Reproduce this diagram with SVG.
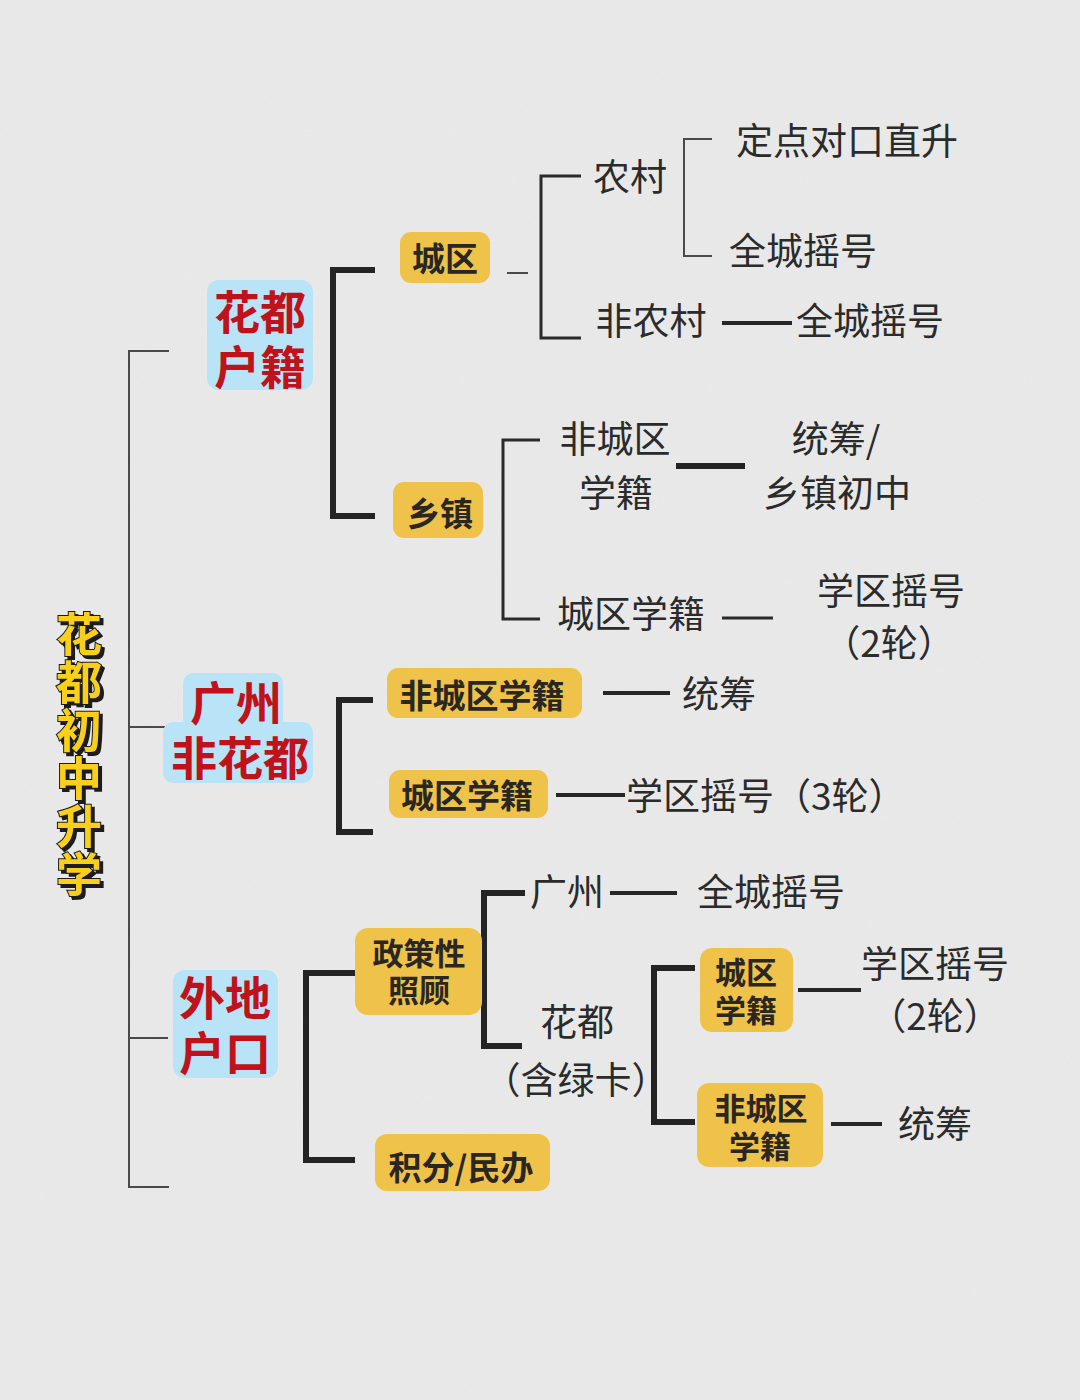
<svg xmlns="http://www.w3.org/2000/svg" width="1080" height="1400" viewBox="0 0 1080 1400">
<defs>
<style>
.t{font-family:"Noto Sans CJK SC","Noto Sans",sans-serif;fill:#2b2b2b;font-size:37px;}
.b{font-family:"Noto Sans CJK SC","Noto Sans",sans-serif;fill:#2a2722;font-size:33px;font-weight:700;text-anchor:middle;}
.s{font-size:31px;}
.r{font-family:"Noto Sans CJK SC","Noto Sans",sans-serif;fill:#c0121b;font-size:46px;font-weight:700;text-anchor:middle;}
.m{text-anchor:middle;}
.y{fill:#efc24a;}
.bl{fill:#b9e3f6;}
.c1{fill:none;stroke:#4a4a4a;stroke-width:2;}
.c2{fill:none;stroke:#2a2a2a;stroke-width:3;}
.c3{fill:none;stroke:#262626;stroke-width:4;}
.c4{fill:none;stroke:#242424;stroke-width:6;}
</style>
<filter id="noise" x="0" y="0" width="100%" height="100%">
<feTurbulence type="fractalNoise" baseFrequency="0.9" numOctaves="2" seed="3"/>
<feColorMatrix type="matrix" values="0 0 0 0 0.5  0 0 0 0 0.5  0 0 0 0 0.5  0 0 0 0.12 0"/>
</filter>
<filter id="sh" x="-20%" y="-10%" width="150%" height="130%">
<feDropShadow dx="3" dy="3" stdDeviation="0" flood-color="#1a1a1a"/>
</filter>
</defs>
<rect width="1080" height="1400" fill="#ebebeb"/>
<rect width="1080" height="1400" filter="url(#noise)"/>

<g id="title">
<text x="79" y="611" writing-mode="vertical-rl" letter-spacing="2" font-family="'Noto Sans CJK SC',sans-serif" font-size="46" font-weight="700" fill="#f8d01c" stroke="#1a1a1a" stroke-width="2" paint-order="stroke" filter="url(#sh)">花都初中升学</text>
</g>

<g id="connectors">
<path class="c1" d="M169,351 H129 V1187 H169"/>
<path class="c1" d="M129,727 H165"/>
<path class="c1" d="M129,1038 H168"/>
<path class="c4" d="M375,270 H333 V516 H375"/>
<path class="c1" d="M507,273 H528"/>
<path class="c2" d="M581,176 H541 V338 H581"/>
<path class="c1" d="M712,139 H684 V256 H712"/>
<path class="c3" d="M722,323 H792"/>
<path class="c2" d="M540,440 H503 V619 H540"/>
<path class="c4" d="M676,466 H745"/>
<path class="c2" d="M722,618 H773"/>
<path class="c4" d="M373,700 H339 V832 H373"/>
<path class="c3" d="M603,693 H670"/>
<path class="c3" d="M556,795 H625"/>
<path class="c4" d="M355,973 H306 V1160 H355"/>
<path class="c4" d="M525,893 H484 V1046 H522"/>
<path class="c3" d="M610,893 H677"/>
<path class="c4" d="M695,968 H654 V1122 H695"/>
<path class="c3" d="M798,990 H861"/>
<path class="c3" d="M831,1124 H882"/>
</g>

<g id="n-huadu-huji">
<rect class="bl" x="207" y="280" width="106" height="110" rx="12"/>
<text class="r"><tspan x="260" y="329">花都</tspan><tspan x="260" y="384">户籍</tspan></text>
</g>
<g id="n-gz">
<rect class="bl" x="183" y="673" width="100" height="56" rx="10"/>
<rect class="bl" x="163" y="722" width="150" height="61" rx="10"/>
<text class="r"><tspan x="236" y="720">广州</tspan><tspan x="240" y="775">非花都</tspan></text>
</g>
<g id="n-waidi">
<rect class="bl" x="173" y="970" width="105" height="108" rx="12"/>
<text class="r"><tspan x="225" y="1015">外地</tspan><tspan x="225" y="1070">户口</tspan></text>
</g>

<g id="n-chengqu">
<rect class="y" x="400" y="232" width="90" height="51" rx="11"/>
<text class="b" x="445" y="271">城区</text>
</g>
<g id="n-nongcun"><text class="t m" x="630" y="191">农村</text></g>
<g id="n-dingdian"><text class="t" x="736" y="155" font-size="38">定点对口直升</text></g>
<g id="n-quancheng1"><text class="t m" x="803" y="265">全城摇号</text></g>
<g id="n-feinongcun"><text class="t m" x="651" y="335">非农村</text></g>
<g id="n-quancheng2"><text class="t m" x="870" y="335">全城摇号</text></g>

<g id="n-xiangzhen">
<rect class="y" x="393" y="482" width="90" height="56" rx="11"/>
<text class="b" x="440" y="526">乡镇</text>
</g>
<g id="n-feichengqu-xj1">
<text class="t m"><tspan x="615" y="453">非城区</tspan><tspan x="616" y="507">学籍</tspan></text>
</g>
<g id="n-tongchou1">
<text class="t m"><tspan x="836" y="453">统筹/</tspan><tspan x="837" y="507">乡镇初中</tspan></text>
</g>
<g id="n-chengqu-xj1"><text class="t m" x="631" y="628">城区学籍</text></g>
<g id="n-xuequ1">
<text class="t m"><tspan x="891" y="605">学区摇号</tspan><tspan x="889" y="657">（2轮）</tspan></text>
</g>

<g id="n-feichengqu-xj2">
<rect class="y" x="387" y="668" width="195" height="50" rx="11"/>
<text class="b" x="482" y="708">非城区学籍</text>
</g>
<g id="n-tongchou2"><text class="t m" x="719" y="708">统筹</text></g>
<g id="n-chengqu-xj2">
<rect class="y" x="389" y="770" width="159" height="48" rx="11"/>
<text class="b" x="467" y="808">城区学籍</text>
</g>
<g id="n-xuequ3"><text class="t" x="626" y="810" font-size="36">学区摇号（3轮）</text></g>

<g id="n-zhengce">
<rect class="y" x="355" y="928" width="127" height="87" rx="13"/>
<text class="b s"><tspan x="419" y="965">政策性</tspan><tspan x="419" y="1002">照顾</tspan></text>
</g>
<g id="n-jifen">
<rect class="y" x="375" y="1134" width="175" height="57" rx="12"/>
<text class="b" x="461" y="1180">积分/民办</text>
</g>
<g id="n-guangzhou"><text class="t m" x="567" y="906">广州</text></g>
<g id="n-quancheng3"><text class="t m" x="771" y="906">全城摇号</text></g>
<g id="n-huadu-lk">
<text class="t m"><tspan x="577" y="1036">花都</tspan><tspan x="576" y="1094">（含绿卡）</tspan></text>
</g>
<g id="n-chengqu-xj3">
<rect class="y" x="700" y="948" width="93" height="84" rx="12"/>
<text class="b s"><tspan x="746" y="984">城区</tspan><tspan x="746" y="1022">学籍</tspan></text>
</g>
<g id="n-xuequ2">
<text class="t m"><tspan x="935" y="978">学区摇号</tspan><tspan x="935" y="1030">（2轮）</tspan></text>
</g>
<g id="n-feichengqu-xj3">
<rect class="y" x="697" y="1083" width="126" height="84" rx="12"/>
<text class="b s"><tspan x="761" y="1120">非城区</tspan><tspan x="760" y="1158">学籍</tspan></text>
</g>
<g id="n-tongchou3"><text class="t m" x="935" y="1138">统筹</text></g>
</svg>
